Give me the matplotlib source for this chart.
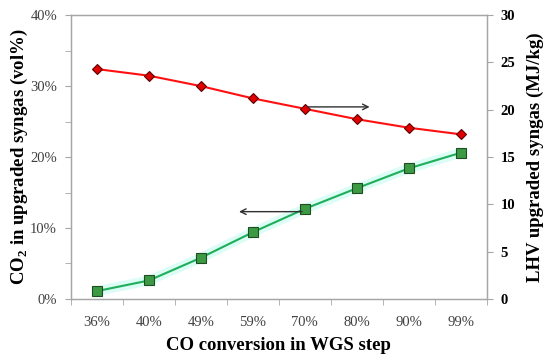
import numpy as np
import matplotlib
matplotlib.use("Agg")
import matplotlib.pyplot as plt
from matplotlib.ticker import MultipleLocator, FuncFormatter

categories = ["36%", "40%", "49%", "59%", "70%", "80%", "90%", "99%"]
co2_vol = [1.1, 2.6, 5.8, 9.4, 12.7, 15.6, 18.4, 20.6]       # left axis, %
lhv_mjkg = [24.3, 23.6, 22.5, 21.2, 20.1, 19.0, 18.1, 17.4]  # right axis, MJ/kg

plt.rcParams["font.family"] = ["Liberation Serif", "DejaVu Serif"]
plt.rcParams["mathtext.fontset"] = "custom"
plt.rcParams["mathtext.rm"] = "Liberation Serif"
plt.rcParams["mathtext.bf"] = "Liberation Serif:bold"

GRAY = "#a6a6a6"
x = np.arange(len(categories))

fig = plt.figure(figsize=(5.5, 3.61), dpi=100)
ax = fig.add_axes([0.129, 0.172, 0.756, 0.786])
ax2 = ax.twinx()

# green CO2 series with light glow
ax.plot(x, co2_vol, color="#dcfcf6", lw=7, solid_capstyle="butt", zorder=2)
ax.plot(x, co2_vol, color="#1fae5a", lw=1.5, zorder=3,
        marker="s", ms=6.5, mfc="#3c9a45", mec="#1d4d20", mew=0.8)

# red LHV series
ax2.plot(x, lhv_mjkg, color="#ff1010", lw=1.5, zorder=3,
         marker="D", ms=5.5, mfc="#e00000", mec="#600000", mew=0.8)

ax.set_xlim(-0.5, len(categories) - 0.5)
ax.set_ylim(0, 40)
ax2.set_ylim(0, 30)

ax.set_xticks(x)
ax.set_xticklabels(categories)
ax.set_xticks(np.arange(-0.5, len(categories)), minor=True)
ax.tick_params(axis="x", which="major", length=0, pad=12, labelsize=10.5, colors="#404040")
ax.tick_params(axis="x", which="minor", length=4, color=GRAY)

ax.yaxis.set_major_locator(MultipleLocator(10))
ax.yaxis.set_minor_locator(MultipleLocator(5))
ax.yaxis.set_major_formatter(FuncFormatter(lambda v, p: f"{v:.0f}%"))
ax.tick_params(axis="y", which="both", length=4, color=GRAY, labelsize=10.5,
               labelcolor="#404040", pad=6)

ax2.yaxis.set_major_locator(MultipleLocator(5))
ax2.tick_params(axis="y", length=4, color=GRAY, labelsize=10.5, pad=6)
for t in ax2.get_yticklabels():
    t.set_fontweight("bold")

for a in (ax, ax2):
    for s in a.spines.values():
        s.set_color(GRAY)
        s.set_linewidth(0.9)

# arrows pointing to the relevant axis
ax2.annotate("", xy=(5.3, 20.3), xytext=(4.0, 20.3),
             arrowprops=dict(arrowstyle="->", color="#303030", lw=1.0))
ax.annotate("", xy=(2.68, 12.3), xytext=(4.0, 12.3),
            arrowprops=dict(arrowstyle="->", color="#303030", lw=1.0))

ax.set_xlabel("CO conversion in WGS step", fontsize=13.5, fontweight="bold", labelpad=6)
ax.set_ylabel(r"CO$_\mathbf{2}$ in upgraded syngas (vol%)", fontsize=13.5,
              fontweight="bold", labelpad=0)
ax2.set_ylabel("LHV upgraded syngas (MJ/kg)", fontsize=13.5, fontweight="bold",
               labelpad=8)

fig.savefig("out.png", dpi=100)
